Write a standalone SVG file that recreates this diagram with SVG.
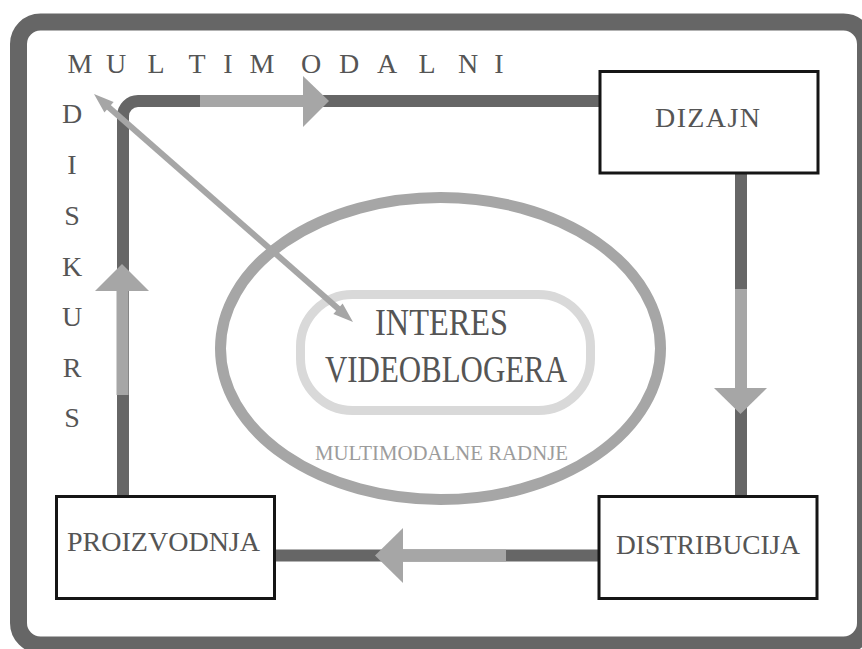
<svg xmlns="http://www.w3.org/2000/svg" width="862" height="649" viewBox="0 0 862 649">
<style>
.lbl{font-family:"Liberation Serif","DejaVu Serif",serif;fill:#555}
.box{fill:#fff;stroke:#151515;stroke-width:3}
.loop{fill:none;stroke:#666;stroke-width:12}
.lite{fill:none;stroke:#a6a6a6;stroke-width:12}
.head{fill:#a6a6a6}
</style>
<rect width="862" height="649" fill="#fff"/>
<g id="frame">
<rect x="18.5" y="22" width="847" height="623" rx="22" fill="none" stroke="#666" stroke-width="17"/>
</g>
<g id="labels-side">
<text class="lbl" font-size="28" text-anchor="middle" x="80 116 156 197 228 262 311 349 387 427 468 499" y="73">MULTIMODALNI</text>
<text class="lbl" font-size="28" text-anchor="middle" x="72" y="123">D</text>
<text class="lbl" font-size="28" text-anchor="middle" x="72" y="174">I</text>
<text class="lbl" font-size="28" text-anchor="middle" x="72" y="225">S</text>
<text class="lbl" font-size="28" text-anchor="middle" x="72" y="276">K</text>
<text class="lbl" font-size="28" text-anchor="middle" x="72" y="326">U</text>
<text class="lbl" font-size="28" text-anchor="middle" x="72" y="377">R</text>
<text class="lbl" font-size="28" text-anchor="middle" x="72" y="427">S</text>
</g>
<g id="center">
<ellipse cx="440.5" cy="348.5" rx="220" ry="151" fill="none" stroke="#a6a6a6" stroke-width="11"/>
<rect x="300.5" y="294.5" width="290" height="116" rx="52" fill="none" stroke="#d9d9d9" stroke-width="9"/>
<text class="lbl" font-size="37" x="375" y="335" textLength="133" lengthAdjust="spacingAndGlyphs">INTERES</text>
<text class="lbl" font-size="38" x="325" y="382" textLength="242" lengthAdjust="spacingAndGlyphs">VIDEOBLOGERA</text>
<text class="lbl" font-size="22" x="315" y="460" textLength="253" lengthAdjust="spacingAndGlyphs" style="fill:#9c9c9c">MULTIMODALNE RADNJE</text>
</g>
<g id="connectors">
<path class="loop" d="M123,496 L123,116 A15,15 0 0 1 138,101 L600,101"/>
<path class="loop" d="M741,173 L741,496"/>
<path class="loop" d="M599,555.5 L275,555.5"/>
<line class="lite" x1="200" y1="101" x2="304" y2="101"/>
<polygon class="head" points="303,76 329,101 303,127"/>
<line class="lite" x1="741" y1="289" x2="741" y2="389"/>
<polygon class="head" points="714,388 767,388 740.5,414"/>
<line class="lite" x1="506" y1="555.5" x2="402" y2="555.5"/>
<polygon class="head" points="403,528 375,555.5 403,583"/>
<line class="lite" x1="122.5" y1="395" x2="122.5" y2="290"/>
<polygon class="head" points="95,291 149,291 122,264"/>
<line x1="105" y1="104" x2="342" y2="312" stroke="#a6a6a6" stroke-width="6"/>
<polygon class="head" points="94,94 104.4,112.5 113.6,101.9"/>
<polygon class="head" points="353,322 333.4,314.1 342.6,303.5"/>
</g>
<g id="dizajn">
<rect class="box" x="600" y="71.5" width="218" height="101.5"/>
<text class="lbl" font-size="28" x="655" y="127" textLength="105" lengthAdjust="spacing">DIZAJN</text>
</g>
<g id="distribucija">
<rect class="box" x="599" y="496.5" width="218" height="102"/>
<text class="lbl" font-size="28" x="616" y="554" textLength="184" lengthAdjust="spacingAndGlyphs">DISTRIBUCIJA</text>
</g>
<g id="proizvodnja">
<rect class="box" x="56.5" y="496.5" width="218" height="102"/>
<text class="lbl" font-size="28" x="67" y="551" textLength="193" lengthAdjust="spacing">PROIZVODNJA</text>
</g>
</svg>
